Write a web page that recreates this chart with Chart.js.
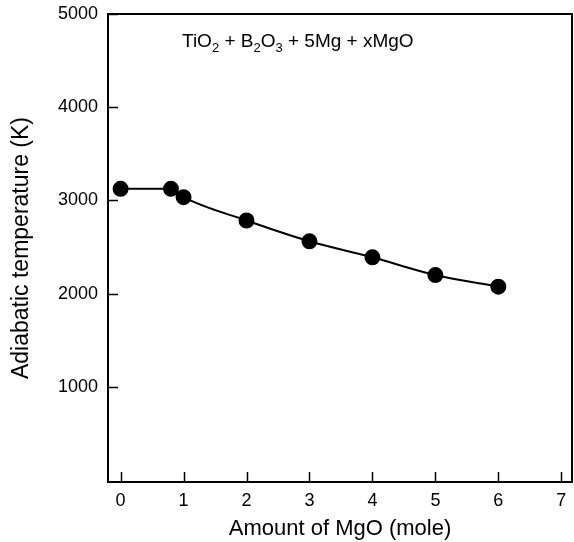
<!DOCTYPE html>
<html>
<head>
<meta charset="utf-8">
<script src="https://cdn.jsdelivr.net/npm/chart.js@4/dist/chart.umd.min.js"></script>
<style>
  html, body { margin: 0; padding: 0; background: #fff; }
  #wrap { width: 574px; height: 542px; }
</style>
</head>
<body>
<div id="wrap"><canvas id="c" width="574" height="542"></canvas></div>
<script>
// Data
const mgoMoles = [0, 0.8, 1, 2, 3, 4, 5, 6];
const adiabaticTemp = [3125, 3125, 3035, 2785, 2562, 2390, 2200, 2075];
const xTickValues = [0, 1, 2, 3, 4, 5, 6, 7];
const yTickValues = [1000, 2000, 3000, 4000, 5000];
const xTitle = 'Amount of MgO (mole)';
const yTitle = 'Adiabatic temperature (K)';
// Equation parts: [text, isSubscript]
const equationParts = [['TiO', false], ['2', true], [' + B', false], ['2', true], ['O', false], ['3', true], [' + 5Mg + xMgO', false]];

const points = mgoMoles.map((x, i) => ({ x: x, y: adiabaticTemp[i] }));
const FONT = 'Liberation Sans, Arial, Helvetica, sans-serif';

const framePlugin = {
  id: 'frame',
  afterDatasetsDraw(chart) {
    const { ctx, chartArea: a, scales } = chart;
    ctx.save();
    ctx.strokeStyle = '#000';
    ctx.lineWidth = 2;
    ctx.strokeRect(a.left, a.top, a.right - a.left, a.bottom - a.top);
    ctx.lineWidth = 1.5;
    yTickValues.forEach(v => {
      const py = Math.round(scales.y.getPixelForValue(v)) + 0.5;
      ctx.beginPath(); ctx.moveTo(a.left, py); ctx.lineTo(a.left + 10, py); ctx.stroke();
    });
    xTickValues.forEach(v => {
      const px = Math.round(scales.x.getPixelForValue(v)) + 0.5;
      ctx.beginPath(); ctx.moveTo(px, a.bottom); ctx.lineTo(px, a.bottom - 10); ctx.stroke();
    });
    let x = a.left + 74;
    const y = a.top + 33;
    ctx.fillStyle = '#000';
    ctx.textBaseline = 'alphabetic';
    equationParts.forEach(([t, sub]) => {
      ctx.font = (sub ? '13px ' : '19px ') + FONT;
      ctx.fillText(t, x, sub ? y + 5 : y);
      x += ctx.measureText(t).width;
    });
    ctx.restore();
  }
};

new Chart(document.getElementById('c'), {
  type: 'scatter',
  data: {
    datasets: [{
      data: points,
      showLine: true,
      cubicInterpolationMode: 'monotone',
      borderColor: '#000',
      borderWidth: 2,
      backgroundColor: '#000',
      pointRadius: 7,
      pointHoverRadius: 7,
      pointBackgroundColor: '#000',
      pointBorderColor: '#000'
    }]
  },
  options: {
    responsive: false,
    animation: false,
    devicePixelRatio: 1,
    layout: { autoPadding: false, padding: { top: 14, right: 2, left: 0, bottom: 0 } },
    plugins: { legend: { display: false }, tooltip: { enabled: false } },
    scales: {
      x: {
        type: 'linear',
        min: -0.2,
        max: 7.17,
        afterBuildTicks(s) { s.ticks = xTickValues.map(v => ({ value: v })); },
        afterFit(s) { s.height = 60; s.paddingLeft = 0; s.paddingRight = 0; },
        grid: { display: false, drawTicks: false },
        border: { display: false },
        ticks: { color: '#000', font: { family: FONT, size: 18 }, padding: 8, maxRotation: 0, callback: v => String(v) },
        title: { display: true, text: xTitle, color: '#000', font: { family: FONT, size: 22 }, padding: { top: 2, bottom: 0 } }
      },
      y: {
        type: 'linear',
        min: -20,
        max: 5000,
        afterBuildTicks(s) { s.ticks = yTickValues.map(v => ({ value: v })); },
        afterFit(s) { s.width = 108; s.paddingTop = 0; s.paddingBottom = 0; },
        grid: { display: false, drawTicks: false },
        border: { display: false },
        ticks: { color: '#000', font: { family: FONT, size: 18 }, padding: 10, callback: v => String(v) },
        title: { display: true, text: yTitle, color: '#000', font: { family: FONT, size: 23 }, padding: { top: 8, bottom: 10 } }
      }
    }
  },
  plugins: [framePlugin]
});
</script>
</body>
</html>
